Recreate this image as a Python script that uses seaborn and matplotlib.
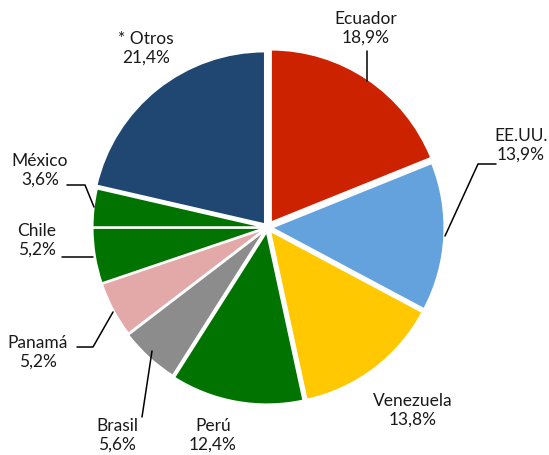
import matplotlib
matplotlib.use("Agg")
import matplotlib.pyplot as plt
import seaborn as sns

sns.set_theme(style="white")
plt.rcParams['font.family'] = ['Lato', 'DejaVu Sans']

countries = ["Ecuador", "EE.UU.", "Venezuela", "Perú", "Brasil", "Panamá", "Chile", "México", "* Otros"]
shares = [18.9, 13.9, 13.8, 12.4, 5.6, 5.2, 5.2, 3.6, 21.4]
colors = ["#CC2200", "#64A2DE", "#FFC800", "#007300", "#8C8C8C", "#E2A9A8", "#007300", "#007300", "#1F4772"]
explode = [6, 4, 4, 4, 3, 2, 2, 2, 4]  # in pixels

W, H = 549, 456
fig = plt.figure(figsize=(W / 100, H / 100), dpi=100)
ax = fig.add_axes([0, 0, 1, 1])

ax.pie(shares, colors=colors, explode=explode, startangle=90, counterclock=False,
       center=(267.5, H - 228.5), radius=173, frame=True,
       wedgeprops=dict(edgecolor="white", linewidth=1.5))
ax.set_xlim(0, W)
ax.set_ylim(0, H)
ax.axis("off")

def fmt(name, val):
    return name + "\n" + f"{val:.1f}".replace(".", ",") + "%"

# label positions (top-down pixel coords) and leader line points
label_pos = {
    "Ecuador": (366, 28), "EE.UU.": (521, 145), "Venezuela": (413, 410),
    "Perú": (213, 435), "Brasil": (117, 435), "Panamá": (38, 352),
    "Chile": (37, 240), "México": (40, 170), "* Otros": (146, 48),
}
leaders = {
    "Ecuador": [(367, 52), (367, 82)],
    "EE.UU.": [(445, 237), (478, 165), (496, 165)],
    "Brasil": [(152, 352), (142, 418)],
    "Panamá": [(113, 313), (93, 348), (77, 348)],
    "Chile": [(62, 258), (93, 258)],
    "México": [(67, 186), (85, 186), (94, 208)],
}
for name, val in zip(countries, shares):
    x, y = label_pos[name]
    ax.text(x, H - y, fmt(name, val), ha="center", va="center", fontsize=12.5,
            color="#1a1a1a", linespacing=1.2)
    if name in leaders:
        pts = leaders[name]
        ax.plot([p[0] for p in pts], [H - p[1] for p in pts], color="black", lw=1.1)

fig.savefig("out.png", dpi=100)
